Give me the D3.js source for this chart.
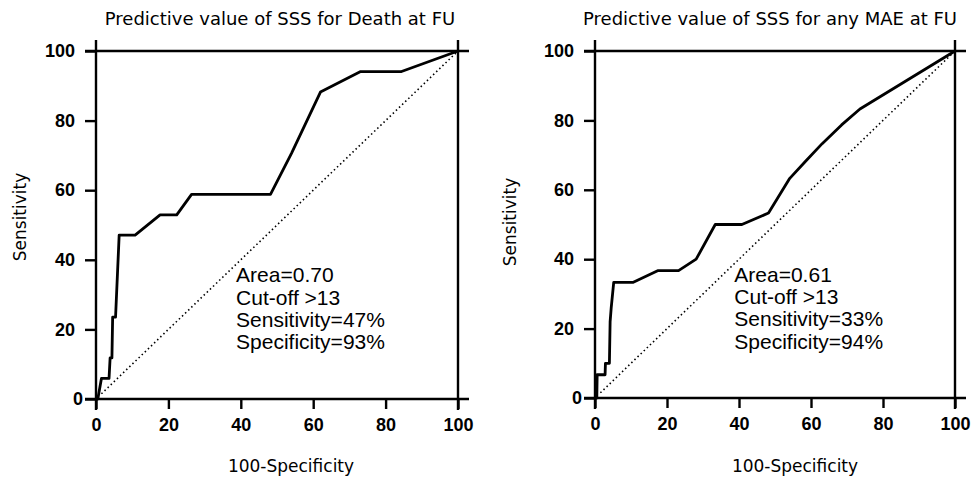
<!DOCTYPE html>
<html lang="en">
<head>
  <meta charset="UTF-8">
  <title>ROC curves - SSS</title>
  <style>
    body { margin: 0; background: #fff; }
    svg { display: block; }
  </style>
</head>
<body>
  <div class="workspace"></div>
  <script src="https://cdn.jsdelivr.net/npm/d3@7"></script>
  <script>
    // tick values shared by both panels
    const tickValues = [0, 20, 40, 60, 80, 100]

    // ROC curve for death at follow-up (100-specificity, sensitivity)
    const deathFpr = [0, 0.5, 1.5, 3.6, 3.9, 4.4, 4.6, 5.4, 6.4, 10.8, 17.7, 22.3, 26.4, 48.2, 54.0, 62.0, 73.1, 84.4, 100]
    const deathTpr = [0, 0, 5.9, 5.9, 11.8, 11.8, 23.5, 23.5, 47.1, 47.1, 52.9, 52.9, 58.8, 58.8, 70.6, 88.2, 94.1, 94.1, 100]

    // ROC curve for any MAE at follow-up
    const maeFpr = [0, 0.5, 0.6, 2.8, 2.9, 4.0, 4.2, 4.5, 5.2, 10.5, 17.4, 23.2, 28.1, 33.4, 40.8, 48.2, 54.1, 58.3, 63.1, 68.5, 73.6, 100]
    const maeTpr = [0, 0, 6.7, 6.7, 10, 10, 22, 26, 33.3, 33.3, 36.7, 36.7, 40, 50, 50, 53.3, 63.3, 68, 73.3, 78.7, 83.3, 100]

    const titles = ['Predictive value of SSS for Death at FU', 'Predictive value of SSS for any MAE at FU']
    const deathNotes = ['Area=0.70', 'Cut-off >13', 'Sensitivity=47%', 'Specificity=93%']
    const maeNotes = ['Area=0.61', 'Cut-off >13', 'Sensitivity=33%', 'Specificity=94%']

    const width = 971
    const height = 479

    const svg = d3.select('.workspace').append('svg')
      .attr('width', width)
      .attr('height', height)

    const panels = [
      { title: titles[0], fpr: deathFpr, tpr: deathTpr, notes: deathNotes,
        x0: 96, x1: 458, y0: 399, y1: 51, titleX: 280, xLabelX: 291, yLabelX: 26, yLabelY: 217 },
      { title: titles[1], fpr: maeFpr, tpr: maeTpr, notes: maeNotes,
        x0: 595, x1: 955, y0: 398, y1: 51, titleX: 770, xLabelX: 795, yLabelX: 516, yLabelY: 222 }
    ]

    const serif = "'DejaVu Sans', sans-serif"
    const sans = "'Liberation Sans', Arial, sans-serif"

    panels.forEach(p => {
      const x = d3.scaleLinear().domain([0, 100]).range([p.x0, p.x1])
      const y = d3.scaleLinear().domain([0, 100]).range([p.y0, p.y1])
      const g = svg.append('g')
      const ext = 11

      // x axis
      const xAxis = g.append('g')
        .attr('transform', `translate(0,${p.y0})`)
        .call(d3.axisBottom(x).tickValues(tickValues).tickSize(10).tickSizeOuter(0).tickPadding(9))
      xAxis.select('.domain').remove()
      xAxis.selectAll('line').attr('stroke', '#000').attr('stroke-width', 2.4)
      xAxis.selectAll('text')
        .attr('fill', '#000')
        .style('font-family', sans)
        .style('font-weight', 'bold')
        .style('font-size', '18px')

      // y axis
      const yAxis = g.append('g')
        .attr('transform', `translate(${p.x0},0)`)
        .call(d3.axisLeft(y).tickValues(tickValues).tickSize(ext).tickSizeOuter(0).tickPadding(10))
      yAxis.select('.domain').remove()
      yAxis.selectAll('line').attr('stroke', '#000').attr('stroke-width', 2.4)
      yAxis.selectAll('text')
        .attr('fill', '#000')
        .attr('dx', d => d === 0 ? 8 : 0)
        .style('font-family', sans)
        .style('font-weight', 'bold')
        .style('font-size', '18px')

      // frame with lines that run past the corners
      const frame = [
        [p.x0 - ext, p.y0, p.x1 + ext, p.y0],
        [p.x0 - ext, p.y1, p.x1 + ext, p.y1],
        [p.x0, p.y0 + ext, p.x0, p.y1 - ext],
        [p.x1, p.y0 + ext, p.x1, p.y1 - ext]
      ]
      g.selectAll('.frame')
        .data(frame)
        .enter().append('line')
        .attr('x1', d => d[0]).attr('y1', d => d[1])
        .attr('x2', d => d[2]).attr('y2', d => d[3])
        .attr('stroke', '#000')
        .attr('stroke-width', 2.4)

      // chance diagonal
      g.append('line')
        .attr('x1', x(1.5)).attr('y1', y(1.5))
        .attr('x2', x(100)).attr('y2', y(100))
        .attr('stroke', '#000')
        .attr('stroke-width', 1.6)
        .attr('stroke-dasharray', '1.5,2.8')

      // ROC curve
      const pts = p.fpr.map((v, i) => [v, p.tpr[i]])
      g.append('path')
        .datum(pts)
        .attr('fill', 'none')
        .attr('stroke', '#000')
        .attr('stroke-width', 2.8)
        .attr('stroke-linejoin', 'round')
        .attr('d', d3.line().x(d => x(d[0])).y(d => y(d[1])))

      // annotation block
      g.selectAll('.note')
        .data(p.notes)
        .enter().append('text')
        .attr('x', x(38.7))
        .attr('y', (d, i) => y(33.5) + i * 22.3)
        .style('font-family', sans)
        .style('font-size', '21px')
        .attr('fill', '#000')
        .text(d => d)

      // title
      g.append('text')
        .attr('x', p.titleX)
        .attr('y', 25)
        .attr('text-anchor', 'middle')
        .style('font-family', serif)
        .style('font-size', '18px')
        .text(p.title)

      // axis titles
      g.append('text')
        .attr('x', p.xLabelX)
        .attr('y', 472)
        .attr('text-anchor', 'middle')
        .style('font-family', serif)
        .style('font-size', '17px')
        .text('100-Specificity')

      g.append('text')
        .attr('transform', `translate(${p.yLabelX},${p.yLabelY}) rotate(-90)`)
        .attr('text-anchor', 'middle')
        .style('font-family', serif)
        .style('font-size', '17px')
        .text('Sensitivity')
    })
  </script>
</body>
</html>
